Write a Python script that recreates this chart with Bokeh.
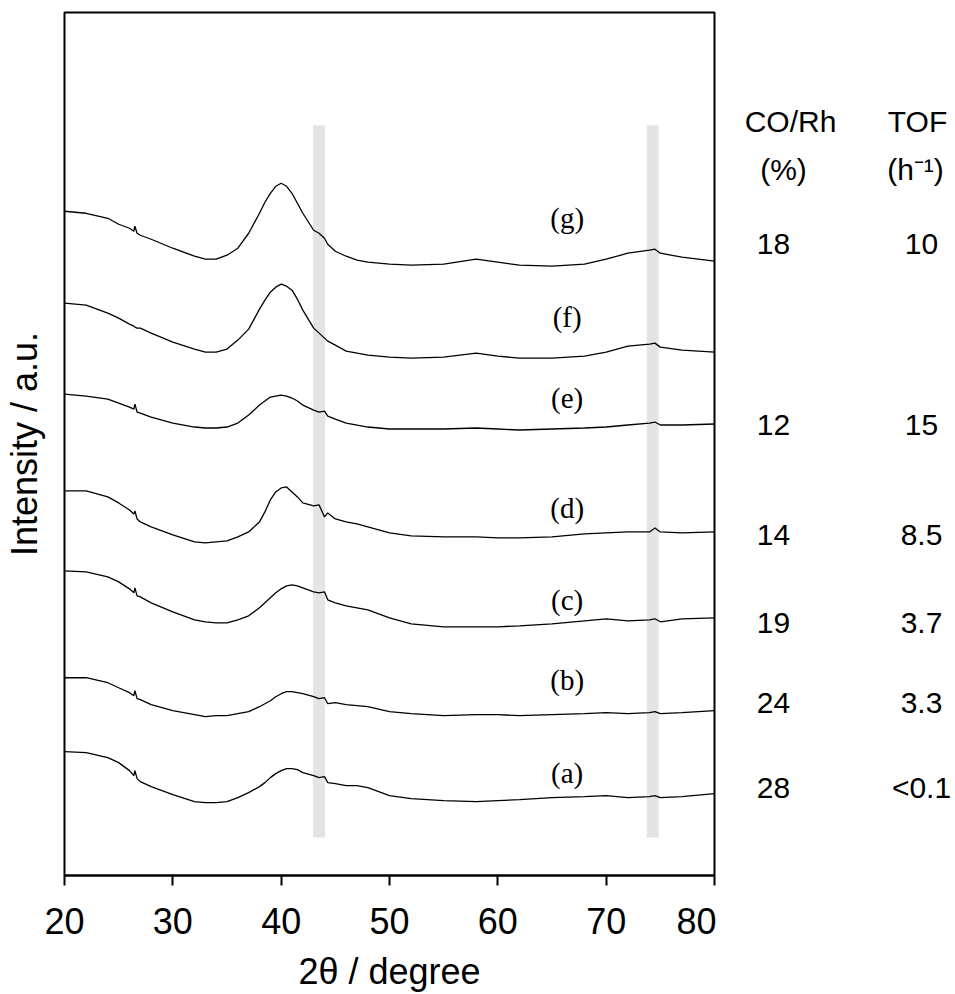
from bokeh.plotting import figure
from bokeh.layouts import row
from bokeh.models import ColumnDataSource, LabelSet, FixedTicker, Range1d
from bokeh.core.properties import value
from bokeh.embed import file_html
from bokeh.resources import INLINE

# 2theta sampling (degree)
two_theta = [20, 22, 24, 25, 26, 26.4, 26.5, 26.7, 27, 28, 30, 32, 33, 34, 35, 36, 37, 38, 38.5, 39,
             39.5, 40, 40.5, 41, 41.5, 42, 43, 43.5, 44, 44.3, 45, 46, 47, 48, 50, 52, 55, 58, 60, 62,
             65, 68, 70, 72, 74, 74.5, 75, 77, 80]

# intensities (a.u., offset stacked)
curve_a = [124, 123, 118, 113, 105, 100, 105, 97, 94, 89, 81, 74, 73, 73, 74, 78, 83, 89, 93, 98,
           102, 105, 107, 107, 106, 103, 100, 98, 99, 93, 92, 90, 90, 88, 80, 77, 75, 74, 75, 76,
           78, 79, 80, 78, 79, 80, 78, 79, 82]
curve_b = [198, 198, 193, 188, 183, 180, 185, 177, 176, 171, 165, 161, 159, 160, 160, 162, 164, 169, 172, 175,
           179, 182, 184, 184, 183, 182, 179, 177, 178, 172, 173, 171, 170, 169, 164, 162, 160, 161, 161, 160,
           161, 162, 163, 162, 163, 164, 162, 163, 165]
curve_c = [305, 304, 299, 294, 287, 283, 288, 280, 279, 273, 264, 256, 254, 253, 253, 256, 260, 268, 273, 278,
           283, 287, 290, 291, 290, 288, 284, 283, 284, 276, 273, 270, 268, 266, 258, 252, 249, 249, 249, 250,
           252, 255, 257, 255, 256, 257, 254, 257, 258]
curve_d = [385, 385, 379, 373, 366, 362, 365, 357, 354, 349, 341, 334, 333, 334, 335, 339, 344, 354, 364, 376,
           384, 388, 389, 384, 379, 373, 370, 371, 359, 363, 357, 354, 352, 349, 343, 340, 339, 339, 338, 338,
           339, 342, 343, 344, 344, 348, 344, 343, 344]
curve_e = [482, 480, 477, 473, 469, 467, 472, 464, 463, 459, 453, 449, 448, 448, 449, 453, 461, 471, 475, 479,
           480, 481, 480, 478, 475, 471, 466, 464, 465, 460, 457, 453, 451, 449, 447, 447, 447, 448, 447, 446,
           447, 448, 449, 451, 453, 454, 451, 451, 452]
curve_f = [573, 571, 563, 558, 552, 550, 549, 548, 548, 543, 534, 527, 524, 524, 527, 536, 547, 567, 576, 584,
           589, 592, 590, 586, 577, 566, 548, 543, 538, 535, 531, 525, 523, 521, 519, 518, 519, 523, 520, 518,
           518, 520, 524, 530, 532, 533, 529, 526, 524]
curve_g = [665, 663, 658, 652, 648, 645, 650, 643, 641, 637, 628, 620, 617, 617, 621, 628, 643, 663, 674, 683,
           690, 693, 690, 683, 673, 663, 646, 643, 638, 632, 625, 620, 616, 614, 612, 611, 612, 617, 614, 611,
           610, 612, 617, 623, 626, 627, 623, 619, 615]

curve_names = ["(a)", "(b)", "(c)", "(d)", "(e)", "(f)", "(g)"]
curve_label_y = [103, 196, 276, 368, 478, 559, 658]

# reference reflections (degree)
band_centers = [43.5, 74.3]

# table at right: rows (a), (b), (c), (d), (e), (g)
co_rh = ["28", "24", "19", "14", "12", "18"]
tof = ["<0.1", "3.3", "3.7", "8.5", "15", "10"]
row_y = [88, 173, 253, 341, 451, 632]
header_left = ["CO/Rh", "(%)"]
header_right = ["TOF", "(h⁻¹)"]
header_y = [755, 707]

x_ticks = [20, 30, 40, 50, 60, 70, 80]

TOP, BOTTOM = 12, 118

p = figure(x_range=Range1d(20, 80), y_range=Range1d(0, 864),
           width=716, height=994,
           min_border_left=63, min_border_right=2, min_border_top=TOP, min_border_bottom=BOTTOM,
           output_backend="svg", toolbar_location=None)
p.xgrid.visible = False
p.ygrid.visible = False
p.outline_line_color = "black"
p.outline_line_width = 2
p.background_fill_color = "white"
p.border_fill_color = "white"

ax = p.xaxis[0]
ax.ticker = FixedTicker(ticks=x_ticks)
ax.major_label_text_font = "Liberation Sans"
ax.major_label_text_font_size = "36px"
ax.major_label_text_color = "black"
ax.major_label_standoff = 22
ax.axis_label = "2θ / degree"
ax.axis_label_text_font = "Liberation Sans"
ax.axis_label_text_font_size = "36px"
ax.axis_label_text_font_style = "normal"
ax.axis_label_text_color = "black"
ax.axis_label_standoff = 14
ax.major_tick_out = 10
ax.major_tick_in = 0
ax.minor_tick_out = 0
ax.minor_tick_in = 0
ax.axis_line_width = 2
ax.major_tick_line_width = 2
ax.axis_line_color = "black"
ax.major_tick_line_color = "black"

ay = p.yaxis[0]
ay.ticker = FixedTicker(ticks=[])
ay.axis_line_color = None
ay.major_tick_line_color = None
ay.minor_tick_line_color = None
ay.axis_label = "Intensity / a.u."
ay.axis_label_text_font = "Liberation Sans"
ay.axis_label_text_font_size = "36px"
ay.axis_label_text_font_style = "normal"
ay.axis_label_text_color = "black"
ay.axis_label_standoff = 20

p.vbar(x=band_centers, width=1.1, bottom=38, top=751, fill_color="#e4e4e4", line_color=None)

for c in [curve_a, curve_b, curve_c, curve_d, curve_e, curve_f, curve_g]:
    p.line(two_theta, c, line_color="black", line_width=1.3)

lab_src = ColumnDataSource(dict(y=curve_label_y, t=curve_names))
p.add_layout(LabelSet(x=66.4, y="y", text="t", source=lab_src,
                      text_font=value("Liberation Serif"), text_font_size="29px",
                      text_align="center", text_baseline="middle", text_color="black"))

# right-hand table panel (shares the intensity scale)
t = figure(x_range=Range1d(0, 239), y_range=p.y_range, width=239, height=994,
           min_border_left=0, min_border_right=0, min_border_top=TOP, min_border_bottom=BOTTOM,
           x_axis_location=None, y_axis_location=None,
           output_backend="svg", toolbar_location=None)
t.xgrid.visible = False
t.ygrid.visible = False
t.outline_line_color = None
t.background_fill_color = "white"
t.border_fill_color = "white"

font = value("Liberation Sans")
t.text(x=57, y=row_y, text=co_rh, text_font=font, text_font_size="30px",
       text_align="center", text_baseline="middle", text_color="black")
t.text(x=205, y=row_y, text=tof, text_font=font, text_font_size="30px",
       text_align="center", text_baseline="middle", text_color="black")
t.text(x=[74, 67], y=header_y, text=header_left, text_font=font, text_font_size="30px",
       text_align="center", text_baseline="middle", text_color="black")
t.text(x=[201, 199], y=header_y, text=header_right, text_font=font, text_font_size="30px",
       text_align="center", text_baseline="middle", text_color="black")

open("out.html", "w").write(file_html(row(p, t), INLINE))
